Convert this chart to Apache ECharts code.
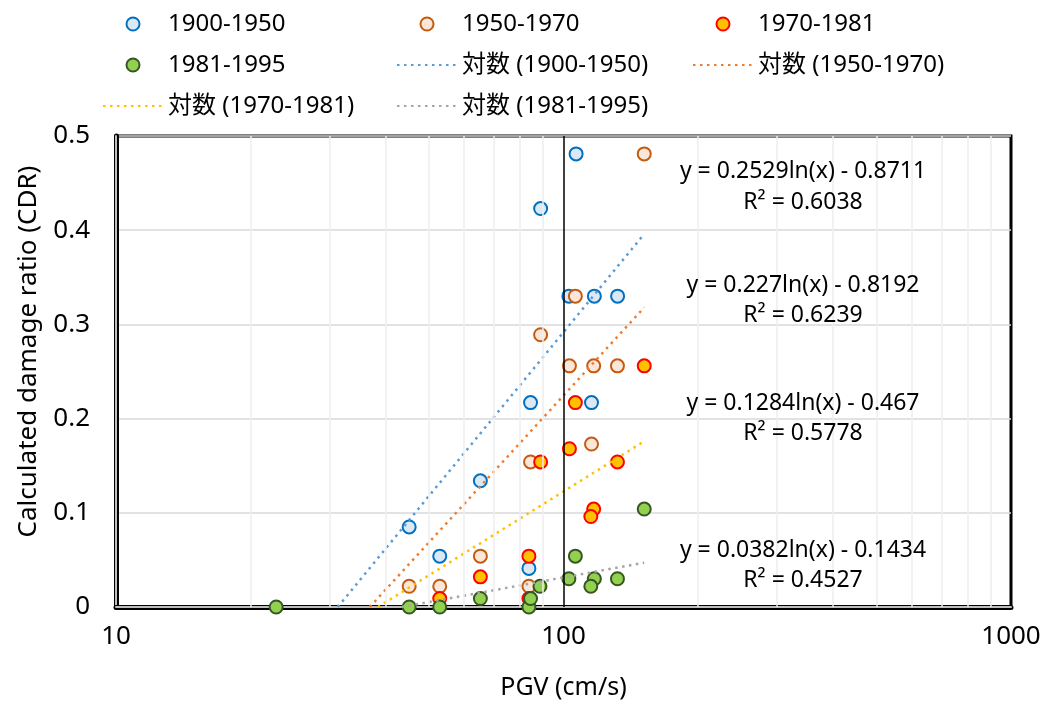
<!DOCTYPE html>
<html>
<head>
<meta charset="utf-8">
<script src="https://cdn.jsdelivr.net/npm/echarts@6/dist/echarts.min.js"></script>
<style>
  html, body { margin: 0; padding: 0; background: #fff; }
  #chart { width: 1055px; height: 705px; }
</style>
</head>
<body>
<div id="chart"></div>
<script>
// PGV (cm/s), CDR pairs
var s1900 = [[45.2,0.085],[52.9,0.054],[65.2,0.134],[84.4,0.217],[83.7,0.041],[88.9,0.423],
             [106.7,0.481],[102.8,0.330],[117.2,0.330],[132.1,0.330],[115.5,0.217]];
var s1950 = [[151.5,0.481],[106.3,0.330],[88.9,0.289],[103.1,0.256],[116.8,0.256],[132,0.256],
             [115.5,0.173],[84.4,0.154],[45.2,0.022],[52.9,0.022],[65.2,0.054],[83.7,0.022]];
var s1970 = [[151.5,0.256],[106.3,0.217],[103.1,0.168],[88.9,0.154],[132,0.154],[116.8,0.104],
             [115.1,0.096],[83.7,0.054],[65.2,0.032],[52.9,0.009],[83.7,0.009]];
var s1981 = [[22.8,0],[45.2,0],[52.9,0],[65.2,0.009],[83.7,0],[84.4,0.009],[88.6,0.022],
             [106.3,0.054],[102.8,0.030],[117.2,0.030],[115.1,0.022],[132,0.030],[151.5,0.104]];

// trend line end points (straight on the log axis)
var t1900 = [[31.3,0],[151.5,0.396]];
var t1950 = [[36.9,0],[151.5,0.318]];
var t1970 = [[38.5,0],[151.5,0.176]];
var t1981 = [[43.5,0],[151.5,0.047]];

var equations = [
    ['y = 0.2529ln(x) - 0.8711', 'R² = 0.6038'],
    ['y = 0.227ln(x) - 0.8192', 'R² = 0.6239'],
    ['y = 0.1284ln(x) - 0.467', 'R² = 0.5778'],
    ['y = 0.0382ln(x) - 0.1434', 'R² = 0.4527']
];
var minorGrid = [20,30,40,50,60,70,80,90,200,300,400,500,600,700,800,900];

var font = "'Noto Sans', 'Noto Sans CJK JP', sans-serif";
var chart = echarts.init(document.getElementById('chart'));

function scatter(name, data, fill, border) {
    return {
        name: name, type: 'scatter', data: data,
        symbol: 'circle', symbolSize: 13,
        itemStyle: { color: fill, borderColor: border, borderWidth: 2, opacity: 1 },
        emphasis: { disabled: true }
    };
}
function trend(name, data, color) {
    return {
        name: name, type: 'line', data: data, showSymbol: false, symbol: 'none',
        lineStyle: { color: color, width: 2.5, type: [2.5, 4.5] },
        itemStyle: { color: color },
        z: 3, silent: true
    };
}

var eqY = [[171, 202], [285, 315], [403, 433], [550, 580]];
var graphics = [];
equations.forEach(function (e, i) {
    for (var k = 0; k < 2; k++) {
        graphics.push({
            type: 'text', x: 803, y: eqY[i][k], z: 10,
            style: { text: e[k], font: '23px ' + font, fill: '#000',
                     align: 'center', verticalAlign: 'middle' }
        });
    }
});

function legendItem(name) {
    // trend entries show only the dotted line, no dot
    if (name.indexOf('対数') === 0) {
        return { name: name, itemStyle: { opacity: 0 } };
    }
    return { name: name };
}
function legendCol(left, names) {
    return {
        orient: 'vertical', left: left, top: 7, itemGap: 17,
        itemWidth: 60, itemHeight: 13,
        textStyle: { fontFamily: font, fontSize: 24, color: '#000' },
        data: names.map(legendItem)
    };
}

var series = [
    scatter('1900-1950', s1900, '#dbe8f5', '#0070c0'),
    scatter('1950-1970', s1950, '#fbe7da', '#c55a11'),
    scatter('1970-1981', s1970, '#ffc000', '#ff0000'),
    scatter('1981-1995', s1981, '#92d050', '#375623'),
    trend('対数 (1900-1950)', t1900, '#5b9bd5'),
    trend('対数 (1950-1970)', t1950, '#ed7d31'),
    trend('対数 (1970-1981)', t1970, '#ffc000'),
    trend('対数 (1981-1995)', t1981, '#a5a5a5'),
    {
        name: 'grid', type: 'line', data: [], silent: true, z: 1,
        markLine: {
            silent: true, symbol: 'none', label: { show: false },
            lineStyle: { color: '#eeeeee', width: 1.5, type: 'solid' },
            data: minorGrid.map(function (v) { return { xAxis: v }; })
        }
    },
    {
        name: 'axis100', type: 'line', data: [], silent: true, z: 2,
        markLine: {
            silent: true, symbol: 'none', label: { show: false },
            lineStyle: { color: '#000', width: 1.5, type: 'solid' },
            data: [{ xAxis: 100 }]
        }
    }
];

var option = {
    backgroundColor: '#fff',
    animation: false,
    textStyle: { fontFamily: font },
    legend: [
        legendCol(97, ['1900-1950', '1981-1995', '対数 (1970-1981)']),
        legendCol(391, ['1950-1970', '対数 (1900-1950)', '対数 (1981-1995)']),
        legendCol(687, ['1970-1981', '対数 (1950-1970)'])
    ],
    grid: {
        left: 116, right: 44, top: 136, bottom: 96,
        show: true, borderColor: '#000', borderWidth: 3, backgroundColor: '#fff'
    },
    xAxis: [{
        type: 'log', logBase: 10, min: 10, max: 1000,
        name: 'PGV (cm/s)', nameLocation: 'middle', nameGap: 68,
        nameTextStyle: { fontSize: 25, color: '#000', fontFamily: font },
        axisLine: { show: true, lineStyle: { color: '#000', width: 5 } },
        axisTick: { show: false },
        splitLine: { show: false },
        axisLabel: { fontSize: 26, color: '#000', margin: 17, fontFamily: font,
                     formatter: function (v) { return String(v); } }
    }, {
        type: 'log', logBase: 10, min: 10, max: 1000, position: 'bottom',
        axisLine: { show: true, lineStyle: { color: '#bfbfbf', width: 2 } },
        axisTick: { show: false }, splitLine: { show: false }, axisLabel: { show: false }
    }],
    yAxis: [{
        type: 'value', min: 0, max: 0.5, interval: 0.1,
        name: 'Calculated damage ratio (CDR)', nameLocation: 'middle', nameGap: 74,
        nameRotate: 90,
        nameTextStyle: { fontSize: 26, color: '#000', fontFamily: font, padding: [0, 0, 0, 40] },
        axisLine: { show: true, lineStyle: { color: '#000', width: 5 } },
        axisTick: { show: false },
        splitLine: { show: true, lineStyle: { color: '#d9d9d9', width: 1.5 } },
        axisLabel: { fontSize: 26, color: '#000', margin: 26, fontFamily: font }
    }, {
        type: 'value', min: 0, max: 0.5, interval: 0.1, position: 'left',
        axisLine: { show: true, lineStyle: { color: '#bfbfbf', width: 2 } },
        axisTick: { show: false }, splitLine: { show: false }, axisLabel: { show: false }
    }],
    series: series,
    graphic: graphics
};

chart.setOption(option);
</script>
</body>
</html>
